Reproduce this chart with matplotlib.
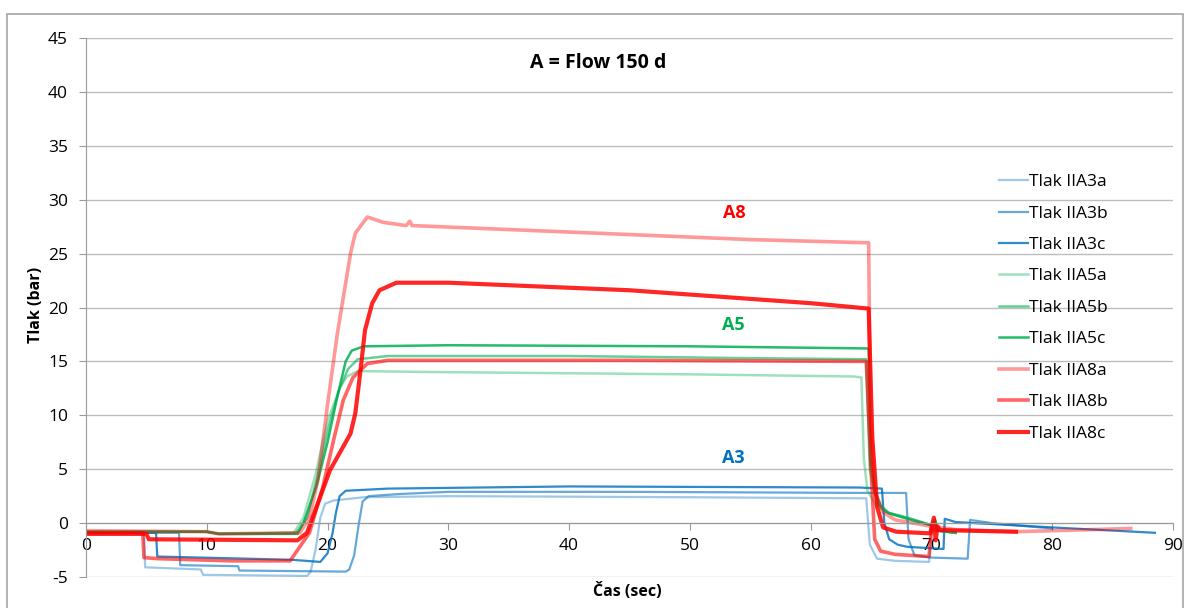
import matplotlib
matplotlib.use("Agg")
import matplotlib.pyplot as plt
from matplotlib.patches import Rectangle

plt.rcParams['font.family'] = ['Open Sans', 'DejaVu Sans']
plt.rcParams['axes.unicode_minus'] = False

# ---------------- data (time s, pressure bar) ----------------
a3a_t = [0, 4.8, 4.9, 9.5, 9.7, 18.3, 18.6, 19.0, 19.4, 19.8, 20.5, 23, 30, 50, 64.6, 64.9, 65.5, 67, 69.8, 70.1, 70.6]
a3a_p = [-0.9, -0.9, -4.1, -4.3, -4.8, -4.9, -4.5, -2.5, 0.5, 1.8, 2.1, 2.4, 2.5, 2.4, 2.3, -2.0, -3.3, -3.5, -3.6, 0.0, -0.5]

a3b_t = [0, 7.7, 7.8, 12.6, 12.7, 21.5, 21.8, 22.2, 22.6, 22.9, 23.4, 26, 30, 45, 64, 67.9, 68.1, 68.6, 70, 73.0, 73.2, 75, 80]
a3b_p = [-0.9, -0.9, -3.9, -4.0, -4.4, -4.5, -4.3, -3.0, 0.0, 2.0, 2.5, 2.7, 2.9, 2.9, 2.8, 2.8, -1.5, -3.0, -3.2, -3.3, 0.3, 0.0, -0.5]

a3c_t = [0, 5.8, 5.9, 17, 19.4, 20.0, 20.4, 20.7, 21.0, 21.5, 25, 40, 64, 65.9, 66.1, 66.5, 67.2, 68, 71.0, 71.1, 72, 80, 88.5]
a3c_p = [-0.9, -0.9, -3.1, -3.4, -3.6, -2.8, -1.0, 1.0, 2.5, 3.0, 3.2, 3.4, 3.3, 3.2, 0.0, -1.5, -2.0, -2.2, -2.4, 0.4, 0.1, -0.4, -0.9]

a5a_t = [0, 10, 11, 17.2, 18.0, 19.0, 20.0, 21.0, 21.6, 22.5, 30, 50, 63.6, 64.2, 64.4, 64.7, 65.5, 66.3, 68, 70, 70.3, 70.5, 72]
a5a_p = [-0.8, -0.8, -1.0, -0.9, 0.5, 4.5, 9.5, 12.5, 13.6, 14.1, 14.0, 13.8, 13.6, 13.5, 6.0, 3.0, 1.5, 1.0, 0.5, -0.2, 0.3, -0.7, -0.9]

a5b_t = [0, 10, 11, 17.4, 18.3, 19.2, 20.1, 21.0, 21.7, 22.5, 25, 40, 55, 64.6, 64.9, 65.5, 66.3, 68, 70, 70.3, 70.5, 72]
a5b_p = [-0.8, -0.8, -1.0, -0.9, 0.5, 4.5, 9.0, 12.5, 14.3, 15.2, 15.5, 15.5, 15.3, 15.2, 5.0, 1.8, 1.0, 0.5, -0.2, 0.3, -0.7, -0.9]

a5c_t = [0, 10, 11, 17.5, 18.0, 19.1, 20.0, 20.8, 21.5, 22.0, 23, 30, 50, 64.8, 64.95, 65.3, 65.8, 66.5, 68, 70, 70.3, 70.5, 72]
a5c_p = [-0.8, -0.8, -1.0, -1.0, 0.0, 3.5, 7.5, 11.7, 15.0, 16.0, 16.4, 16.5, 16.4, 16.2, 6.0, 3.0, 1.6, 0.9, 0.4, -0.2, 0.3, -0.7, -0.9]

a8a_t = [0, 10, 11, 17.7, 18.5, 19.2, 20.0, 20.8, 21.9, 22.3, 22.7, 23.3, 24.6, 26.5, 26.8, 27.0, 40, 55, 64.8, 64.95, 65.3, 66, 67, 70, 72, 77, 86.5]
a8a_p = [-0.7, -0.8, -1.0, -0.9, 0.5, 4.0, 11.0, 17.5, 25.0, 26.9, 27.5, 28.4, 27.9, 27.6, 28.0, 27.6, 27.0, 26.3, 26.0, 10.0, 3.0, 1.0, 0.3, -0.3, -0.6, -0.8, -0.5]

a8b_t = [0, 4.7, 4.8, 6, 12, 16.9, 18.5, 19.6, 20.5, 21.3, 22.1, 23.3, 25, 45, 64.6, 65.0, 65.3, 65.8, 67, 69.8, 70.0, 70.4]
a8b_p = [-0.9, -0.9, -3.2, -3.3, -3.5, -3.5, -0.9, 3.3, 7.7, 11.4, 13.5, 14.8, 15.1, 15.1, 15.0, 5.0, -1.5, -2.6, -2.9, -3.1, -0.5, -0.7]

a8c_t = [0, 5.0, 5.2, 17.5, 18.3, 20.2, 21.9, 22.3, 22.7, 23.1, 23.7, 24.3, 25.7, 30, 45, 60, 64.8, 65.1, 65.5, 66, 67.1, 69.9, 70.2, 70.35, 70.5, 70.7, 77]
a8c_p = [-1.0, -1.0, -1.5, -1.6, -0.9, 4.9, 8.3, 10.2, 13.9, 17.9, 20.4, 21.6, 22.3, 22.3, 21.6, 20.4, 19.9, 8.0, 1.5, -0.4, -0.8, -0.95, 0.5, -1.6, -0.3, -0.65, -0.8]

labels = ['Tlak IIA3a', 'Tlak IIA3b', 'Tlak IIA3c',
          'Tlak IIA5a', 'Tlak IIA5b', 'Tlak IIA5c',
          'Tlak IIA8a', 'Tlak IIA8b', 'Tlak IIA8c']

x_ticks = [0, 10, 20, 30, 40, 50, 60, 70, 80, 90]
y_ticks = [-5, 0, 5, 10, 15, 20, 25, 30, 35, 40, 45]

# ---------------- figure ----------------
W, H = 1189, 608
fig = plt.figure(figsize=(W / 100, H / 100), dpi=100)
fig.patches.append(Rectangle((7 / W, -0.1), (1183 - 7) / W, 1.1 - 14 / H,
                             transform=fig.transFigure, fill=False,
                             edgecolor='#A6A6A6', linewidth=1.2))
ax = fig.add_axes([86 / W, 31 / H, (1173 - 86) / W, (577 - 38) / H])
ax.set_xlim(0, 90)
ax.set_ylim(-5, 45)

blue, green, red = '#0070C0', '#00B050', '#FF0000'
series = [
    (a3a_t, a3a_p, blue, 0.38, 1.6),
    (a3b_t, a3b_p, blue, 0.6, 1.6),
    (a3c_t, a3c_p, blue, 0.82, 1.6),
    (a5a_t, a5a_p, green, 0.38, 1.8),
    (a5b_t, a5b_p, green, 0.6, 1.8),
    (a5c_t, a5c_p, green, 0.85, 1.8),
    (a8a_t, a8a_p, red, 0.4, 2.6),
    (a8b_t, a8b_p, red, 0.6, 2.6),
    (a8c_t, a8c_p, red, 0.85, 3.0),
]
for (t, p, c, a, lw), lab in zip(series, labels):
    ax.plot(t, p, color=c, alpha=a, lw=lw, label=lab, solid_joinstyle='round')

ax.set_xticks(x_ticks)
ax.set_yticks(y_ticks)
ax.set_xticklabels([str(v) for v in x_ticks])
ax.set_yticklabels([str(v) for v in y_ticks])
ax.yaxis.grid(True, color='#BDBDBD', lw=1.0)
ax.xaxis.grid(False)
ax.set_axisbelow(True)
for s in ['top', 'right']:
    ax.spines[s].set_visible(False)
ax.spines['bottom'].set_position(('data', 0))
ax.spines['bottom'].set_color('#9A9A9A')
ax.spines['left'].set_color('#9A9A9A')
ax.tick_params(axis='both', colors='#9A9A9A', labelcolor='black', labelsize=12.5, direction='out')
ax.tick_params(axis='x', length=5, pad=6)
ax.tick_params(axis='y', length=5, pad=8)

ax.set_xlabel('Čas (sec)', fontweight='bold', fontsize=11.5)
ax.set_ylabel('Tlak (bar)', fontweight='bold', fontsize=11.5)
ax.xaxis.set_label_coords(0.498, -0.012)
ax.yaxis.set_label_coords(-0.039, 0.505)

ax.text(42.4, 42.7, 'A = Flow 150 d', fontweight='bold', fontsize=14, ha='center', va='center')
ax.text(53.7, 28.8, 'A8', color='#FF0000', fontweight='bold', fontsize=13, ha='center', va='center')
ax.text(53.6, 18.4, 'A5', color='#00B050', fontweight='bold', fontsize=13, ha='center', va='center')
ax.text(53.6, 6.0, 'A3', color='#0070C0', fontweight='bold', fontsize=13, ha='center', va='center')

leg = ax.legend(loc='upper left', bbox_to_anchor=(999 / W, 1 - 174 / H), bbox_transform=fig.transFigure,
                frameon=False, fontsize=12.5, handlelength=1.65, handletextpad=0.1,
                labelspacing=0.88, borderpad=0, borderaxespad=0)

fig.savefig('out.png', dpi=100)
